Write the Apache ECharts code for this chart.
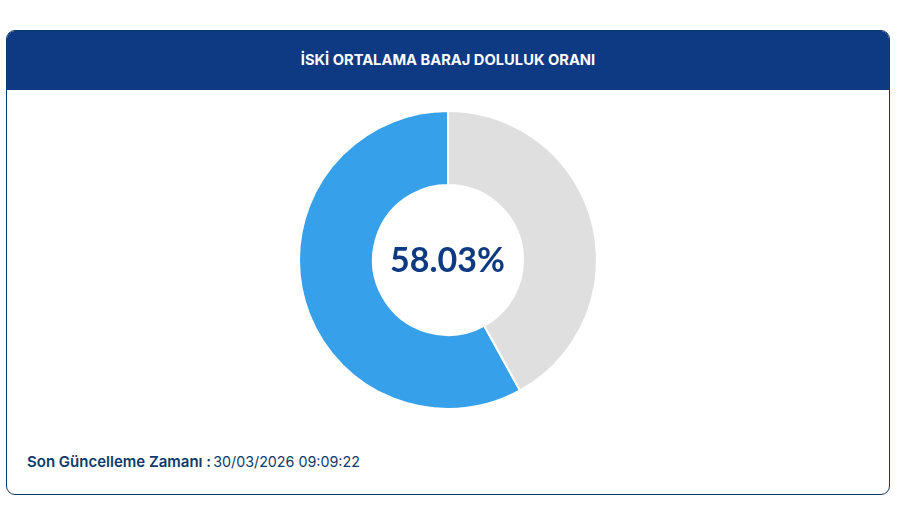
<!DOCTYPE html>
<html lang="tr">
<head>
<meta charset="utf-8">
<title>İSKİ Ortalama Baraj Doluluk Oranı</title>
<script src="https://cdn.jsdelivr.net/npm/echarts@6/dist/echarts.min.js"></script>
<style>
  html, body { margin: 0; padding: 0; background: #fff; }
  body { width: 898px; height: 523px; position: relative; overflow: hidden; font-family: Inter, "Noto Sans", sans-serif; }
  .card { position: absolute; left: 6px; top: 30px; width: 882px; height: 463px; border: 1px solid #0e3a6b; border-radius: 9px; overflow: hidden; box-sizing: content-box; }
  .card-header { height: 59px; line-height: 59px; background: #0d3a82; color: #fff; text-align: center; font-size: 14.7px; font-weight: 700; }
  .updated { position: absolute; left: 20px; top: 421px; font-size: 14.3px; color: #0e3a6b; white-space: nowrap; }
  .updated b { font-size: 15px; font-weight: 600; margin-right: -2px; }
  #chart { position: absolute; left: 0; top: 0; width: 898px; height: 523px; }
</style>
</head>
<body>
<div class="card">
  <div class="card-header">İSKİ ORTALAMA BARAJ DOLULUK ORANI</div>
  <div class="updated"><b>Son Güncelleme Zamanı :</b> 30/03/2026 09:09:22</div>
</div>
<div id="chart"></div>
<script>
const sliceNames = ['Dolu', 'Boş'];
const sliceValues = [58.03, 41.97];
const sliceColors = ['#36a0ea', '#dfdfdf'];

const chart = echarts.init(document.getElementById('chart'), null, { renderer: 'canvas' });

chart.setOption({
  animation: false,
  title: {
    text: sliceValues[0].toFixed(2) + '%',
    left: 447.5,
    top: 261.5,
    padding: 0,
    textAlign: 'center',
    textVerticalAlign: 'middle',
    textStyle: { color: '#0d3a82', fontSize: 34, fontWeight: 700, fontFamily: 'Lato, "Noto Sans", sans-serif' }
  },
  series: [{
    type: 'pie',
    center: [448, 260],
    radius: [75, 149],
    startAngle: 90,
    clockwise: false,
    silent: true,
    label: { show: false },
    labelLine: { show: false },
    itemStyle: { borderColor: '#fff', borderWidth: 2 },
    data: sliceNames.map((name, i) => ({
      name: name,
      value: sliceValues[i],
      itemStyle: { color: sliceColors[i] }
    }))
  }]
});
</script>
</body>
</html>
